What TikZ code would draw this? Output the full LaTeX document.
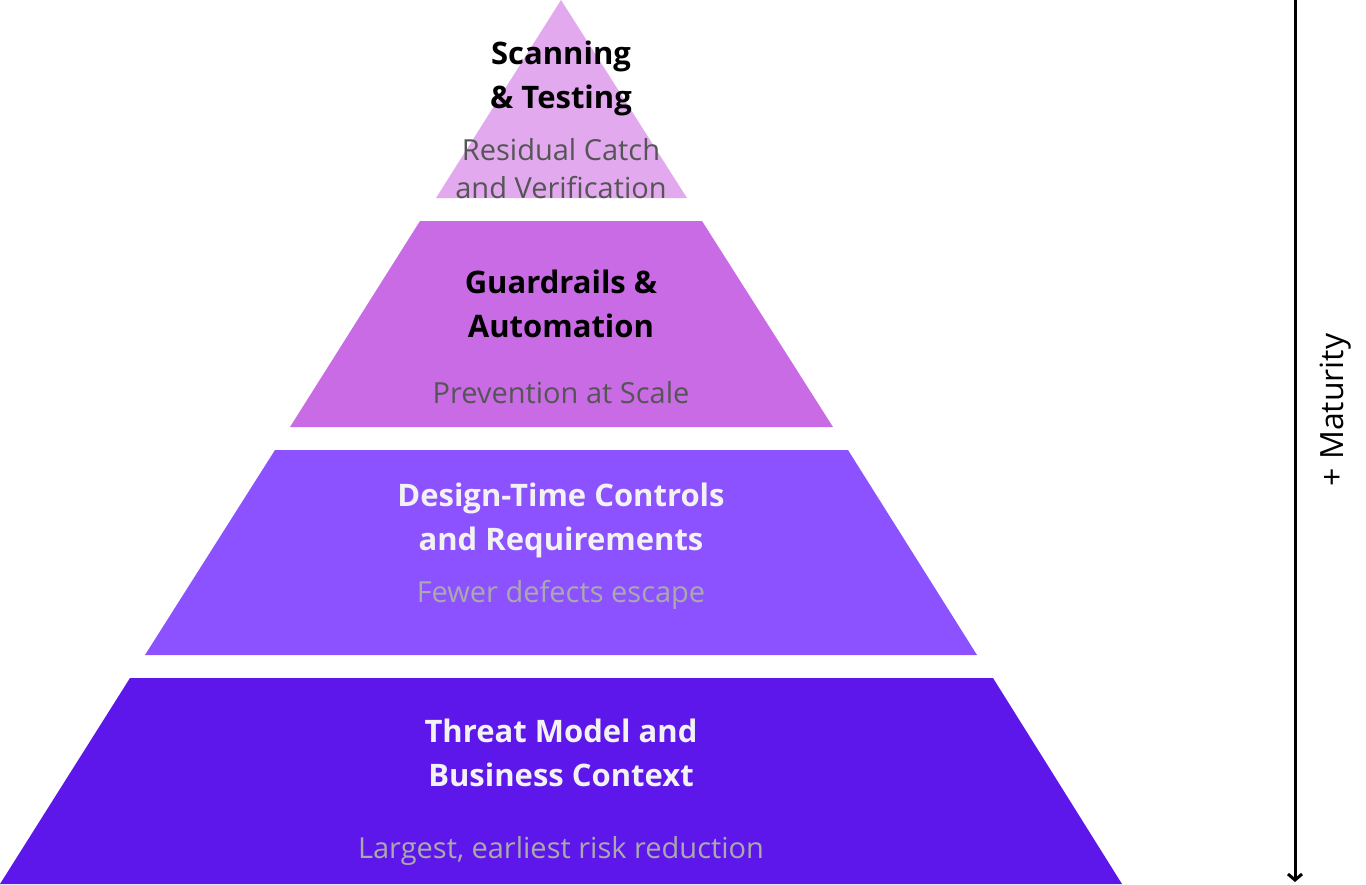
\documentclass[tikz,border=0pt]{standalone}
\usepackage{fontspec}
\setmainfont{Open Sans}
\usetikzlibrary{arrows.meta}
\definecolor{tierA}{HTML}{E2A9EE}
\definecolor{tierB}{HTML}{C96BE4}
\definecolor{tierC}{HTML}{8C52FF}
\definecolor{tierD}{HTML}{5D17EA}
\definecolor{subdark}{HTML}{555555}
\definecolor{sublight}{HTML}{AAAAAA}
\definecolor{titlelight}{HTML}{F2F2F2}
\tikzset{
  title/.style={anchor=base, font=\fontsize{31}{44}\selectfont\bfseries, inner sep=0pt},
  sub/.style={anchor=base, font=\fontsize{29}{38}\selectfont, inner sep=0pt},
}
\begin{document}
\begin{tikzpicture}[x=1pt,y=-1pt]
\useasboundingbox (0,0) rectangle (1366,884);
% tiers
\fill[tierA] (561,0) -- (687,198) -- (436,198) -- cycle;
\fill[tierB] (420,221) -- (702,221) -- (833,427) -- (290,427) -- cycle;
\fill[tierC] (275,450) -- (848,450) -- (977,655) -- (145,655) -- cycle;
\fill[tierD] (130,678) -- (993,678) -- (1122,884) -- (0,884) -- cycle;
% texts
\node[title] (t1a) at (561,64) {Scanning};
\node[title] (t1b) at (561,108) {\& Testing};
\node[sub,text=subdark] (s1a) at (561,160) {Residual Catch};
\node[sub,text=subdark] (s1b) at (561,198) {and Verification};
\node[title] (t2a) at (561,293) {Guardrails \&};
\node[title] (t2b) at (561,337) {Automation};
\node[sub,text=subdark] (s2) at (561,403) {Prevention at Scale};
\node[title,text=titlelight] (t3a) at (561,506) {Design-Time Controls};
\node[title,text=titlelight] (t3b) at (561,550) {and Requirements};
\node[sub,text=sublight] (s3) at (561,602) {Fewer defects escape};
\node[title,text=titlelight] (t4a) at (561,742) {Threat Model and};
\node[title,text=titlelight] (t4b) at (561,786) {Business Context};
\node[sub,text=sublight] (s4) at (561,858) {Largest, earliest risk reduction};
% maturity arrow
\coordinate (atop) at (1295,0);
\coordinate (abot) at (1295,882);
\draw[line width=3pt,-{Straight Barb[length=6pt,width=14pt,line width=3pt]}] (atop) -- (abot);
\node[rotate=90, font=\fontsize{32}{36}\selectfont, inner sep=0pt] (mat) at (1336,410) {+ Maturity};
\end{tikzpicture}
\end{document}
